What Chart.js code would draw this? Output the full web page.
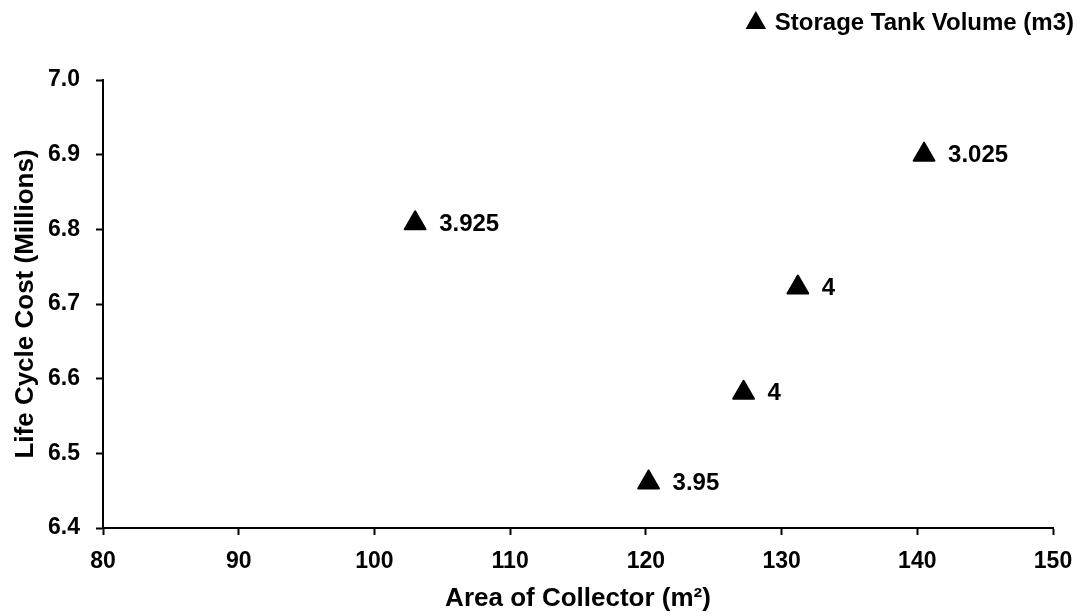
<!DOCTYPE html>
<html>
<head>
<meta charset="utf-8">
<script src="https://cdn.jsdelivr.net/npm/chart.js@4/dist/chart.umd.min.js"></script>
<style>
html,body{margin:0;padding:0;background:#fff;}
#wrap{width:1085px;height:616px;}
</style>
</head>
<body>
<div id="wrap"><canvas id="c" width="1085" height="616"></canvas></div>
<script>
// ---- data ----
const areaOfCollector = [103.0, 120.2, 127.2, 131.2, 140.5];
const lifeCycleCost   = [6.808, 6.461, 6.581, 6.722, 6.900];
const tankVolumeLabels = ['3.925', '3.95', '4', '4', '3.025'];
const seriesName = 'Storage Tank Volume (m3)';
const xTitle = 'Area of Collector (m\u00B2)';
const yTitle = 'Life Cycle Cost (Millions)';
const xMin = 80, xMax = 150, xStep = 10;
const yMin = 6.4, yMax = 7.0, yStep = 0.1;

const FONT = "'Liberation Sans', Arial, Helvetica, sans-serif";

const points = areaOfCollector.map((x, i) => ({x: x, y: lifeCycleCost[i]}));

// keeps the legend band at the top of the canvas, above a fixed-height gap
const legendBandPlugin = {
  id: 'legendBand',
  beforeUpdate(chart) {
    const lg = chart.legend;
    if (lg && !lg._bandWrapped) {
      const orig = lg.fit.bind(lg);
      lg.fit = function () { orig(); this.height = 80; };
      lg._bandWrapped = true;
    }
  }
};

const labelPlugin = {
  id: 'pointLabels',
  beforeDatasetsDraw(chart) {
    chart.ctx.save();
    chart.ctx.lineJoin = 'round';
  },
  afterDatasetsDraw(chart) {
    const ctx = chart.ctx;
    ctx.restore();
    const meta = chart.getDatasetMeta(0);
    ctx.save();
    ctx.font = 'bold 24px ' + FONT;
    ctx.fillStyle = '#000';
    ctx.textAlign = 'left';
    ctx.textBaseline = 'middle';
    meta.data.forEach((el, i) => {
      ctx.fillText(tankVolumeLabels[i], el.x + 24, el.y + 1);
    });
    ctx.restore();
  }
};

new Chart(document.getElementById('c'), {
  type: 'scatter',
  data: {
    datasets: [{
      label: seriesName,
      data: points,
      pointStyle: 'triangle',
      pointRadius: 12,
      pointHoverRadius: 12,
      pointBackgroundColor: '#000',
      pointBorderColor: '#000',
      pointBorderWidth: 2,
      showLine: false
    }]
  },
  plugins: [legendBandPlugin, labelPlugin],
  options: {
    responsive: false,
    animation: false,
    events: [],
    layout: {padding: {left: 0, right: 0, top: 0, bottom: 0}},
    plugins: {
      tooltip: {enabled: false},
      legend: {
        display: true,
        position: 'top',
        align: 'end',
        labels: {
          usePointStyle: true,
          pointStyle: 'triangle',
          boxWidth: 14,
          boxHeight: 14,
          padding: 11,
          color: '#000',
          font: {family: FONT, size: 24, weight: 'bold'}
        }
      }
    },
    scales: {
      x: {
        type: 'linear',
        min: xMin, max: xMax,
        ticks: {
          stepSize: xStep,
          color: '#000',
          padding: 13,
          font: {family: FONT, size: 23, weight: 'bold'},
          callback: v => String(v)
        },
        grid: {display: true, drawOnChartArea: false, drawTicks: true, tickLength: 7, color: '#000', tickColor: '#000', tickWidth: 2},
        border: {display: true, color: '#000', width: 2},
        title: {display: true, text: xTitle, color: '#000', padding: {top: 2, bottom: 2}, font: {family: FONT, size: 26, weight: 'bold'}},
        afterFit(scale) { scale.height = 88; scale.paddingRight = 32; }
      },
      y: {
        type: 'linear',
        min: yMin, max: yMax,
        ticks: {
          stepSize: yStep,
          color: '#000',
          padding: 16,
          font: {family: FONT, size: 23, weight: 'bold'},
          callback: v => Number(v).toFixed(1)
        },
        grid: {display: true, drawOnChartArea: false, drawTicks: true, tickLength: 7, color: '#000', tickColor: '#000', tickWidth: 2},
        border: {display: true, color: '#000', width: 2},
        title: {display: true, text: yTitle, color: '#000', padding: {top: 10, bottom: 4}, font: {family: FONT, size: 26, weight: 'bold'}},
        afterFit(scale) { scale.width = 103; scale.paddingTop = 80; }
      }
    }
  }
});
</script>
</body>
</html>
